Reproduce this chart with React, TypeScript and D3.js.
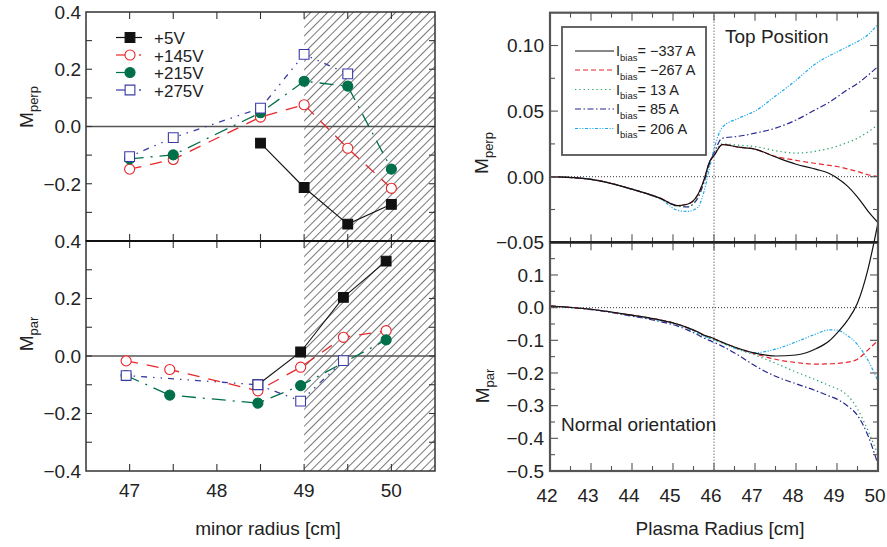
import React, { useEffect, useRef } from 'react';
import * as d3 from 'd3';

// ---- left: probe measurements vs minor radius [cm]
const probeR = [47, 47.5, 48.5, 49, 49.5, 50];
const probeRPar = [46.96, 47.46, 48.47, 48.96, 49.45, 49.94];
const biasLabels = ['+5V', '+145V', '+215V', '+275V'];
const perp5 = [null, null, -0.058, -0.213, -0.341, -0.272];
const perp145 = [-0.149, -0.115, 0.033, 0.076, -0.076, -0.216];
const perp215 = [-0.113, -0.099, 0.048, 0.158, 0.141, -0.149];
const perp275 = [-0.105, -0.039, 0.064, 0.252, 0.184, null];
const par5 = [null, null, -0.1, 0.014, 0.204, 0.33];
const par145 = [-0.017, -0.047, -0.121, -0.039, 0.065, 0.088];
const par215 = [-0.068, -0.136, -0.164, -0.103, null, 0.056];
const par275 = [-0.068, null, -0.1, -0.157, -0.016, null];

// ---- right: model curves vs plasma radius [cm]
const plasmaR = [42, 43, 44, 44.7, 45.1, 45.35, 45.6, 45.75, 45.9, 46, 46.2, 46.6, 47, 47.5, 48, 48.5, 48.8, 49, 49.25, 49.5, 49.75, 50];
const biasCurrents = ['\u2212337 A', '\u2212267 A', '13 A', '85 A', '206 A'];
const mPerpM337 = [0, -0.002, -0.0095, -0.0165, -0.022, -0.021, -0.014, -0.003, 0.012, 0.016, 0.0245, 0.0225, 0.021, 0.015, 0.0095, 0.0056, 0.0026, -0.001, -0.007, -0.0155, -0.026, -0.035];
const mPerpM267 = [0, -0.002, -0.0095, -0.0165, -0.022, -0.021, -0.014, -0.003, 0.012, 0.016, 0.0245, 0.0225, 0.021, 0.0155, 0.0125, 0.01, 0.0087, 0.0078, 0.006, 0.004, 0.0015, 0];
const mPerp13 = [0, -0.002, -0.0095, -0.017, -0.0225, -0.023, -0.016, -0.004, 0.012, 0.017, 0.025, 0.024, 0.023, 0.0198, 0.018, 0.0195, 0.0215, 0.0232, 0.026, 0.0293, 0.034, 0.0395];
const mPerp85 = [0, -0.002, -0.0095, -0.0168, -0.022, -0.023, -0.0165, -0.005, 0.011, 0.018, 0.0293, 0.0308, 0.0332, 0.037, 0.0432, 0.0515, 0.0565, 0.0607, 0.0662, 0.071, 0.0772, 0.084];
const mPerp206 = [0, -0.002, -0.0097, -0.017, -0.0255, -0.0265, -0.0235, -0.012, 0.008, 0.021, 0.0375, 0.0445, 0.05, 0.0615, 0.0735, 0.0865, 0.092, 0.095, 0.099, 0.103, 0.108, 0.1165];
const mParM337 = [0.005, -0.005, -0.023, -0.038, -0.05, -0.061, -0.074, -0.084, -0.09, -0.095, -0.106, -0.125, -0.139, -0.148, -0.145, -0.125, -0.103, -0.078, -0.04, 0.014, 0.115, 0.26];
const mParM267 = [0.005, -0.005, -0.023, -0.038, -0.05, -0.061, -0.074, -0.084, -0.09, -0.095, -0.106, -0.125, -0.141, -0.158, -0.168, -0.173, -0.172, -0.171, -0.167, -0.158, -0.13, -0.1];
const mPar13 = [0.005, -0.005, -0.024, -0.039, -0.051, -0.063, -0.076, -0.087, -0.094, -0.098, -0.108, -0.128, -0.145, -0.17, -0.197, -0.222, -0.238, -0.248, -0.268, -0.31, -0.375, -0.45];
const mPar85 = [0.005, -0.006, -0.026, -0.043, -0.056, -0.068, -0.083, -0.093, -0.101, -0.106, -0.118, -0.146, -0.178, -0.21, -0.233, -0.255, -0.27, -0.28, -0.3, -0.33, -0.39, -0.48];
const mPar206 = [0.005, -0.005, -0.024, -0.04, -0.052, -0.063, -0.078, -0.087, -0.094, -0.098, -0.108, -0.128, -0.138, -0.127, -0.105, -0.08, -0.068, -0.069, -0.085, -0.113, -0.16, -0.225];

// ---- tick values
const leftXTicks = [47, 48, 49, 50];
const leftYTopTicks = [0.4, 0.2, 0, -0.2];
const leftYBotTicks = [0.4, 0.2, 0, -0.2, -0.4];
const rightXTicks = [42, 43, 44, 45, 46, 47, 48, 49, 50];
const rightYTopTicks = [0.1, 0.05, 0, -0.05];
const rightYBotTicks = [0.1, 0, -0.1, -0.2, -0.3, -0.4, -0.5];

const FONT = '"Liberation Sans", Arial, Helvetica, sans-serif';
const INK = '#222';

const minus = (s: string) => s.replace('-', '\u2212');

export default function App() {
  const ref = useRef<SVGSVGElement>(null);

  useEffect(() => {
    const svg = d3.select(ref.current);
    svg.selectAll('*').remove();
    svg.attr('font-family', FONT);

    const xL = d3.scaleLinear().domain([46.5, 50.5]).range([86, 435]);
    const yLT = d3.scaleLinear().domain([-0.4, 0.4]).range([241, 12]);
    const yLB = d3.scaleLinear().domain([-0.4, 0.4]).range([471, 241]);
    const xR = d3.scaleLinear().domain([42, 50]).range([550, 878]);
    const yRT = d3.scaleLinear().domain([-0.05, 0.125]).range([242.3, 12.7]);
    const yRB = d3.scaleLinear().domain([-0.5, 0.2]).range([471, 242.3]);

    // hatch pattern for the shaded radial range
    const defs = svg.append('defs');
    const pat = defs.append('pattern')
      .attr('id', 'hatch')
      .attr('patternUnits', 'userSpaceOnUse')
      .attr('width', 6).attr('height', 6)
      .attr('patternTransform', 'rotate(45)');
    pat.append('line').attr('x1', 0).attr('y1', 0).attr('x2', 0).attr('y2', 6)
      .attr('stroke', '#1a1a1a').attr('stroke-width', 1.2);

    svg.append('rect')
      .attr('x', xL(49)).attr('y', yLT(0.4))
      .attr('width', xL(50.5) - xL(49)).attr('height', yLB(-0.4) - yLT(0.4))
      .attr('fill', 'url(#hatch)');

    // zero lines
    [yLT, yLB].forEach(y => {
      svg.append('line').attr('x1', xL(46.5)).attr('x2', xL(50.5))
        .attr('y1', y(0)).attr('y2', y(0)).attr('stroke', '#555').attr('stroke-width', 1.3);
    });
    [yRT, yRB].forEach(y => {
      svg.append('line').attr('x1', xR(42)).attr('x2', xR(50))
        .attr('y1', y(0)).attr('y2', y(0)).attr('stroke', '#222').attr('stroke-width', 0.9)
        .attr('stroke-dasharray', '1,2');
    });
    svg.append('line').attr('x1', xR(46)).attr('x2', xR(46))
      .attr('y1', yRT(0.125)).attr('y2', yRB(-0.5)).attr('stroke', '#222').attr('stroke-width', 0.9)
      .attr('stroke-dasharray', '1,2');

    // ---- left series
    const probeStyles = [
      { color: '#111', dash: null, marker: 'square', fill: '#111' },
      { color: '#e8262b', dash: '12,9', marker: 'circle', fill: '#fff' },
      { color: '#00704a', dash: '14,7,2,7', marker: 'circle', fill: '#00704a' },
      { color: '#3b3ba6', dash: '1.5,6,1.5,6,6,6', marker: 'square', fill: '#fff' },
    ];
    const perpSets = [perp5, perp145, perp215, perp275];
    const parSets = [par5, par145, par215, par275];

    const drawProbe = (sets: (number | null)[][], rs: number[], y: d3.ScaleLinear<number, number>) => {
      const g = svg.append('g');
      sets.forEach((vals, i) => {
        const st = probeStyles[i];
        const pts = rs.map((r, j) => [r, vals[j]]).filter(p => p[1] != null) as [number, number][];
        const line = d3.line<[number, number]>().x(d => xL(d[0])).y(d => y(d[1]));
        g.append('path').attr('d', line(pts)).attr('fill', 'none')
          .attr('stroke', st.color).attr('stroke-width', i === 0 ? 1.1 : 1.3)
          .attr('stroke-dasharray', st.dash);
      });
      sets.forEach((vals, i) => {
        const st = probeStyles[i];
        const pts = rs.map((r, j) => [r, vals[j]]).filter(p => p[1] != null) as [number, number][];
        const sym = d3.symbol().type(st.marker === 'square' ? d3.symbolSquare : d3.symbolCircle)
          .size(st.marker === 'square' ? 95 : 80);
        g.selectAll(null).data(pts).enter().append('path')
          .attr('d', sym)
          .attr('transform', d => `translate(${xL(d[0])},${y(d[1])})`)
          .attr('fill', st.fill).attr('stroke', st.color).attr('stroke-width', 1.1);
      });
    };
    drawProbe(perpSets, probeR, yLT);
    drawProbe(parSets, probeRPar, yLB);

    // left legend
    const legL = svg.append('g');
    const legRows = [37.5, 55, 72.5, 90];
    biasLabels.forEach((lab, i) => {
      const st = probeStyles[i];
      const cy = legRows[i];
      legL.append('line').attr('x1', 116).attr('x2', i === 0 ? 142 : 126)
        .attr('y1', cy).attr('y2', cy).attr('stroke', st.color).attr('stroke-width', 1.2);
      if (i === 1 || i === 3) {
        legL.append('circle').attr('cx', 140).attr('cy', cy).attr('r', 0.9).attr('fill', st.color);
      }
      const sym = d3.symbol().type(st.marker === 'square' ? d3.symbolSquare : d3.symbolCircle)
        .size(st.marker === 'square' ? 95 : 80);
      legL.append('path').attr('d', sym()).attr('transform', `translate(130,${cy})`)
        .attr('fill', st.fill).attr('stroke', st.color).attr('stroke-width', 1.1);
      legL.append('text').attr('x', 154).attr('y', cy + 6.5).attr('font-size', 17).attr('fill', INK).text(lab);
    });

    // ---- right curves
    const curveStyles = [
      { color: '#111', dash: null },
      { color: '#e8262b', dash: '5,3' },
      { color: '#22a060', dash: '1.3,3' },
      { color: '#262690', dash: '6,2.5,1.5,2.5' },
      { color: '#1fa8ec', dash: '3,1.6,1.1,1.6,1.1,1.6' },
    ];
    const perpCurves = [mPerpM337, mPerpM267, mPerp13, mPerp85, mPerp206];
    const parCurves = [mParM337, mParM267, mPar13, mPar85, mPar206];
    const drawCurves = (sets: number[][], y: d3.ScaleLinear<number, number>) => {
      const g = svg.append('g');
      const order = [4, 3, 2, 1, 0];
      order.forEach(i => {
        const st = curveStyles[i];
        const line = d3.line<number>().x((_, j) => xR(plasmaR[j])).y(d => y(d)).curve(d3.curveMonotoneX);
        g.append('path').attr('d', line(sets[i])).attr('fill', 'none')
          .attr('stroke', st.color).attr('stroke-width', 1.2)
          .attr('stroke-dasharray', st.dash);
      });
    };
    drawCurves(perpCurves, yRT);
    drawCurves(parCurves, yRB);

    // right legend
    const legR = svg.append('g');
    legR.append('rect').attr('x', 562).attr('y', 27).attr('width', 144).attr('height', 128)
      .attr('fill', '#fff').attr('stroke', '#555').attr('stroke-width', 1.8);
    const rRows = [51, 70, 89.5, 109, 128.5];
    biasCurrents.forEach((lab, i) => {
      const st = curveStyles[i];
      const cy = rRows[i];
      legR.append('line').attr('x1', 575).attr('x2', 614).attr('y1', cy).attr('y2', cy)
        .attr('stroke', st.color).attr('stroke-width', 1.2).attr('stroke-dasharray', st.dash);
      const t = legR.append('text').attr('x', 616).attr('y', cy + 5).attr('font-size', 14.5).attr('fill', INK);
      t.append('tspan').text('I');
      t.append('tspan').attr('font-size', 9.5).attr('dy', 4.5).text('bias');
      t.append('tspan').attr('dy', -4.5).text('= ' + lab);
    });

    // ---- frames & ticks
    const frame = (
      x: d3.ScaleLinear<number, number>, y: d3.ScaleLinear<number, number>,
      xs: { v: number; len: number }[], ys: { v: number; len: number }[],
      stroke: string, sw: number
    ) => {
      const [x0, x1] = x.range();
      const [y0, y1] = y.range();
      const g = svg.append('g').attr('stroke', stroke).attr('fill', 'none');
      xs.forEach(t => {
        g.append('line').attr('x1', x(t.v)).attr('x2', x(t.v)).attr('y1', y0).attr('y2', y0 - t.len).attr('stroke-width', 1.1);
        g.append('line').attr('x1', x(t.v)).attr('x2', x(t.v)).attr('y1', y1).attr('y2', y1 + t.len).attr('stroke-width', 1.1);
      });
      ys.forEach(t => {
        g.append('line').attr('x1', x0).attr('x2', x0 + t.len).attr('y1', y(t.v)).attr('y2', y(t.v)).attr('stroke-width', 1.1);
        g.append('line').attr('x1', x1).attr('x2', x1 - t.len).attr('y1', y(t.v)).attr('y2', y(t.v)).attr('stroke-width', 1.1);
      });
      g.append('rect').attr('x', x0).attr('y', y1).attr('width', x1 - x0).attr('height', y0 - y1)
        .attr('stroke-width', sw);
    };
    const leftXs = d3.range(47, 50.01, 0.5).map(v => ({ v, len: 7 }));
    const leftYs = d3.range(-0.3, 0.31, 0.1).map(v => ({ v, len: 6 }));
    frame(xL, yLT, leftXs, leftYs, '#333', 1.5);
    frame(xL, yLB, leftXs, leftYs, '#333', 1.5);
    svg.append('line').attr('x1', 86).attr('x2', 435).attr('y1', 241).attr('y2', 241)
      .attr('stroke', '#111').attr('stroke-width', 2.2);

    const rightXs = d3.range(42.5, 49.6, 0.5).map(v => ({ v, len: Math.abs(v % 1) < 0.01 ? 8 : 5 }));
    const rtYs = d3.range(-0.025, 0.11, 0.025).map(v => ({ v, len: Math.abs(Math.round(v / 0.025)) % 2 === 0 ? 8 : 5 }));
    const rbYs = d3.range(-0.45, 0.16, 0.05).map(v => ({ v, len: Math.abs(Math.round(v / 0.05)) % 2 === 0 ? 8 : 5 }));
    frame(xR, yRT, rightXs, rtYs, '#555', 2.2);
    frame(xR, yRB, rightXs, rbYs, '#555', 2.2);
    svg.append('line').attr('x1', 550).attr('x2', 878).attr('y1', 242.3).attr('y2', 242.3)
      .attr('stroke', '#222').attr('stroke-width', 2.4);

    // ---- tick labels
    const lab = svg.append('g').attr('fill', INK).attr('font-size', 19);
    const f1 = d3.format('.1f');
    const f2 = d3.format('.2f');
    leftYTopTicks.forEach(v => lab.append('text').attr('x', 81).attr('y', yLT(v)).attr('dy', '0.36em')
      .attr('text-anchor', 'end').text(minus(f1(v))));
    leftYBotTicks.forEach(v => lab.append('text').attr('x', 81).attr('y', yLB(v)).attr('dy', '0.36em')
      .attr('text-anchor', 'end').text(minus(f1(v))));
    leftXTicks.forEach(v => lab.append('text').attr('x', xL(v)).attr('y', 497)
      .attr('text-anchor', 'middle').text(String(v)));
    rightYTopTicks.forEach(v => lab.append('text').attr('x', 544).attr('y', yRT(v)).attr('dy', '0.36em')
      .attr('text-anchor', 'end').text(minus(f2(v))));
    rightYBotTicks.forEach(v => lab.append('text').attr('x', 544).attr('y', yRB(v)).attr('dy', '0.36em')
      .attr('text-anchor', 'end').text(minus(f1(v))));
    rightXTicks.forEach(v => lab.append('text').attr('x', xR(v) - 3).attr('y', 502)
      .attr('text-anchor', 'middle').text(String(v)));

    // ---- axis titles & annotations
    lab.append('text').attr('x', 268).attr('y', 535).attr('text-anchor', 'middle').text('minor radius [cm]');
    lab.append('text').attr('x', 720).attr('y', 535).attr('text-anchor', 'middle').text('Plasma Radius [cm]');
    lab.append('text').attr('x', 725).attr('y', 43).text('Top Position');
    lab.append('text').attr('x', 561).attr('y', 431).text('Normal orientation');

    const yTitle = (x: number, y: number, sub: string) => {
      const t = lab.append('text').attr('transform', `translate(${x},${y}) rotate(-90)`)
        .attr('text-anchor', 'middle');
      t.append('tspan').text('M');
      t.append('tspan').attr('font-size', 13).attr('dy', 5).text(sub);
    };
    yTitle(33, 107, 'perp');
    yTitle(33, 334, 'par');
    yTitle(488, 153, 'perp');
    yTitle(489, 386, 'par');
  }, []);

  return (
    <svg ref={ref} width={887} height={547}
      style={{ position: 'absolute', left: 0, top: 0, background: '#fff' }} />
  );
}
